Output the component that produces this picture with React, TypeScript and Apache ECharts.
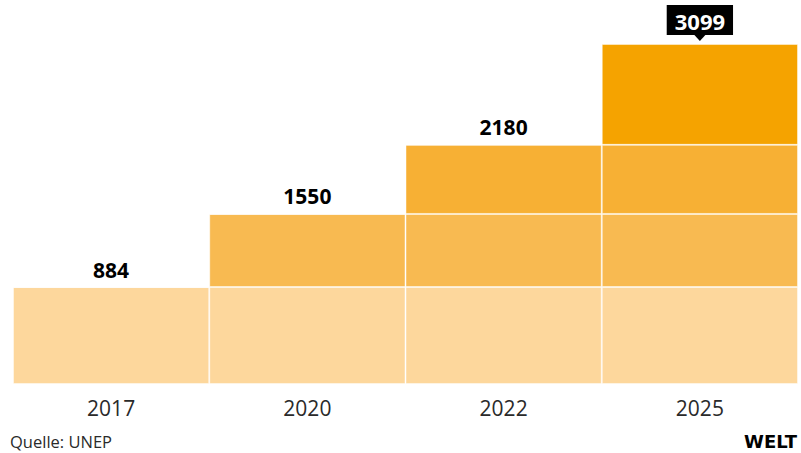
import React, { useEffect, useRef } from "react";
import * as echarts from "echarts";

const categories = ["2017", "2020", "2022", "2025"];
const totals = [884, 1550, 2180, 3099];
const layerColors = ["#FDD79C", "#F8BA51", "#F7B034", "#F5A300"];
const sourceText = "Quelle: UNEP";
const logoText = "WELT";

export default function App() {
  const ref = useRef<HTMLDivElement>(null);
  useEffect(() => {
    if (!ref.current) return;
    const chart = echarts.init(ref.current, undefined, { renderer: "svg" });
    const font = "'Open Sans', Lato, sans-serif";
    const layers = totals.map((t, k) =>
      categories.map((_, i) => (i >= k ? t - (k > 0 ? totals[k - 1] : 0) : 0))
    );
    const lastIdx = totals.length - 1;
    const barSeries = layers.map((vals, k) => ({
      type: "bar",
      stack: "total",
      barWidth: "100%",
      barGap: "0%",
      barCategoryGap: "0%",
      data: vals,
      itemStyle: {
        color: layerColors[k],
        borderColor: "rgba(255,255,255,0.45)",
        borderWidth: 1,
      },
      silent: true,
    }));
    chart.setOption({
      animation: false,
      grid: { left: 13, right: 3, top: 0, bottom: 69, containLabel: false },
      xAxis: {
        type: "category",
        data: categories,
        axisLine: { show: false },
        axisTick: { show: false },
        axisLabel: {
          fontSize: 21,
          color: "#2a2a2a",
          fontFamily: font,
          margin: 13,
        },
      },
      yAxis: { type: "value", min: 0, max: 3500, show: false, splitLine: { show: false } },
      series: [
        ...barSeries,
        {
          type: "scatter",
          symbolSize: 0,
          z: 5,
          itemStyle: { opacity: 1 },
          data: totals.map((v, i) =>
            i === lastIdx
              ? {
                  value: v,
                  label: {
                    color: "#fff",
                    backgroundColor: "#000",
                    padding: [5, 8, 3, 8],
                    distance: 9,
                    fontSize: 22,
                  },
                }
              : v
          ),
          label: {
            show: true,
            position: "top",
            distance: 7,
            formatter: (p: any) => String(totals[p.dataIndex]),
            fontSize: 21,
            fontWeight: "bold",
            color: "#000",
            opacity: 1,
            fontFamily: font,
          },
        },
        {
          type: "scatter",
          symbol: "triangle",
          symbolRotate: 180,
          symbolSize: [11, 6],
          symbolOffset: [0, -6],
          itemStyle: { color: "#000", opacity: 1 },
          z: 6,
          data: totals.map((v, i) => (i === lastIdx ? v : null)),
        },
      ],
      graphic: [
        {
          type: "text",
          left: 10,
          top: 433,
          style: { text: sourceText, fontSize: 16.5, fill: "#2a2a2a", fontFamily: font },
        },
        {
          type: "text",
          right: 4,
          top: 432,
          style: {
            text: logoText,
            fontSize: 18,
            fontWeight: 900,
            fill: "#000",
            fontFamily: "'DejaVu Sans', sans-serif",
          },
        },
      ],
    });
    return () => chart.dispose();
  }, []);
  return (
    <div
      ref={ref}
      style={{ position: "fixed", left: 0, top: 0, width: 801, height: 453, background: "#fff" }}
    />
  );
}
